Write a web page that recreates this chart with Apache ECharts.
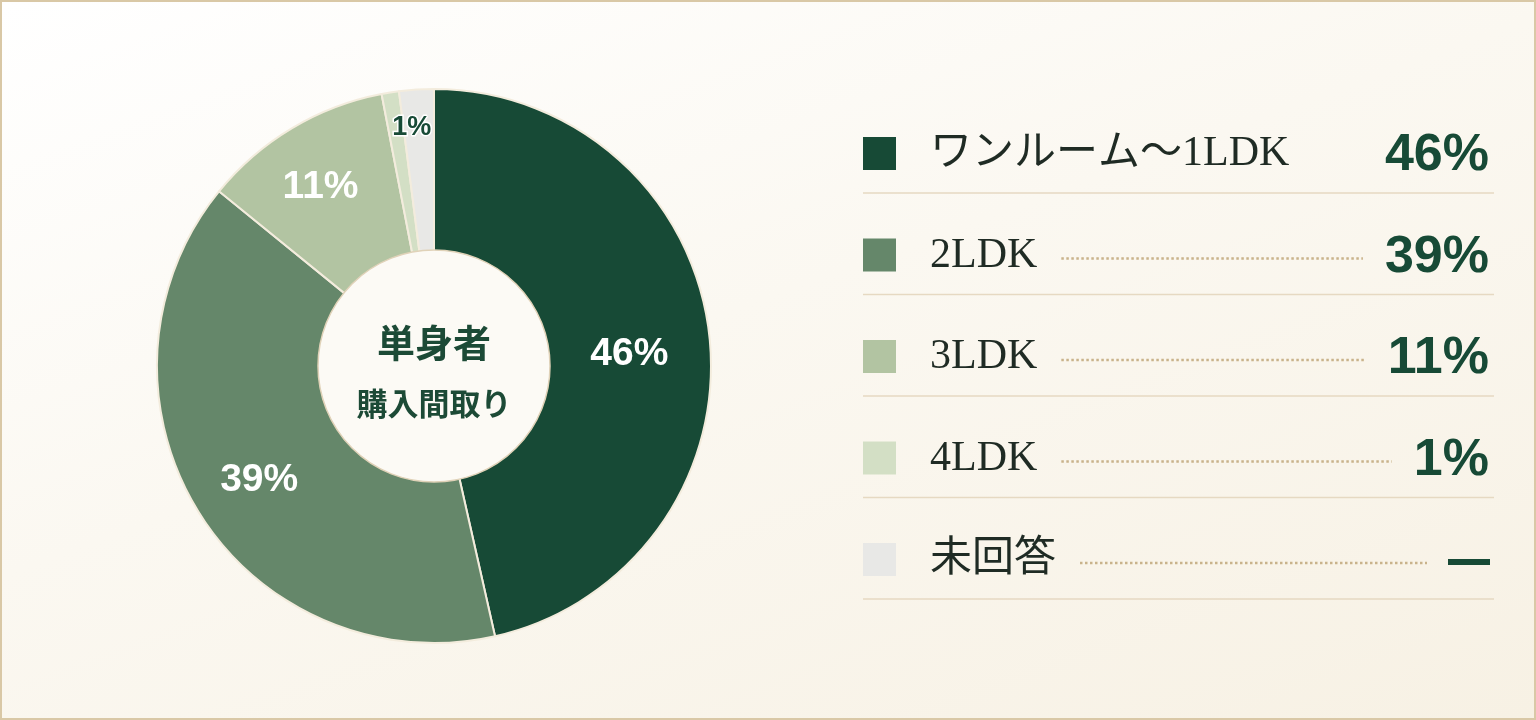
<!DOCTYPE html>
<html lang="ja">
<head>
<meta charset="utf-8">
<title>単身者 購入間取り</title>
<script src="https://cdn.jsdelivr.net/npm/echarts@6.0.0/dist/echarts.min.js"></script>
<style>
html, body {
    margin: 0;
    padding: 0;
    width: 1536px;
    height: 720px;
    overflow: hidden;
}
.frame {
    box-sizing: border-box;
    width: 1536px;
    height: 720px;
    border: 2px solid #d9c8a6;
    background: linear-gradient(160deg, #ffffff 0%, #fbf8f1 45%, #f7f1e4 100%);
}
#chart {
    width: 100%;
    height: 100%;
}
</style>
</head>
<body>
<div class="frame"><div id="chart"></div></div>
<script>
// 間取りの区分と割合
const categories = ['ワンルーム〜1LDK', '2LDK', '3LDK', '4LDK', '未回答'];
const shares = [46, 39, 11, 1, 2];
const valueLabels = ['46%', '39%', '11%', '1%', '—'];
const colors = ['#174a36', '#65876a', '#b2c4a2', '#d3dfc5', '#e8e8e6'];

const CX = 432, CY = 364;
const R_OUT = 277, R_IN = 112;

const SERIF = '"Liberation Serif", "DejaVu Serif", "Noto Sans CJK JP", serif';
const SANS = '"Liberation Sans", Arial, sans-serif';
const CJK = '"Noto Sans CJK JP", sans-serif';
const GREEN = '#174a36';

// 文字幅の計測用
const measureCtx = document.createElement('canvas').getContext('2d');
function textWidth(str, font) {
    measureCtx.font = font;
    return measureCtx.measureText(str).width;
}

function initChart() {
    let chartShell = document.getElementById('chart');
    let myChart = echarts.init(chartShell, null, { renderer: 'canvas' });

    // 右側の凡例（表）
    let rowTop = 152, rowStep = 101.5;
    let legendLeft = 861, legendRight = 1492, valueRight = 1487;
    let textLeft = 928;
    let nameFont = 42, valueFont = 52;
    let graphics = [];

    categories.forEach(function (name, i) {
        let cy = rowTop + i * rowStep;
        graphics.push({
            type: 'rect',
            shape: { x: legendLeft, y: cy - 17, width: 33, height: 33 },
            style: { fill: colors[i] }
        });
        graphics.push({
            type: 'text',
            x: textLeft,
            y: cy,
            style: {
                text: name,
                font: nameFont + 'px ' + SERIF,
                fill: '#1f2b24',
                verticalAlign: 'middle'
            }
        });
        let isDash = valueLabels[i] === '—';
        let vFont = isDash ? 'bold 40px ' + SANS : 'bold ' + valueFont + 'px ' + SANS;
        graphics.push({
            type: 'text',
            x: valueRight,
            y: cy + 2,
            style: {
                text: valueLabels[i],
                font: vFont,
                fill: GREEN,
                align: 'right',
                verticalAlign: 'middle',
                stroke: isDash ? GREEN : null,
                lineWidth: isDash ? 2 : 0
            }
        });
        // 点線のリーダー（名前が長い行は省略）
        let nameEnd = textLeft + textWidth(name, nameFont + 'px ' + SERIF);
        let valStart = valueRight - textWidth(valueLabels[i], vFont);
        let x1 = nameEnd + 24, x2 = valStart - 22;
        if (x2 - x1 > 90) {
            graphics.push({
                type: 'line',
                shape: { x1: x1, y1: cy + 3, x2: x2, y2: cy + 3 },
                style: { stroke: '#c9b38b', lineWidth: 2.5, lineDash: [2.5, 2.5] }
            });
        }
        graphics.push({
            type: 'line',
            shape: { x1: legendLeft, y1: cy + 39, x2: legendRight, y2: cy + 39 },
            style: { stroke: '#e6d9c2', lineWidth: 1.5 }
        });
    });

    // 中央の円とタイトル
    graphics.push({
        type: 'circle',
        z: 10,
        shape: { cx: CX, cy: CY, r: 116 },
        style: { fill: '#fcfaf5', stroke: '#e0d2b8', lineWidth: 1.5 }
    });
    graphics.push({
        type: 'text',
        z: 11,
        x: CX,
        y: CY - 23,
        style: {
            text: '単身者',
            font: 'bold 38px ' + CJK,
            fill: '#1c4a36',
            align: 'center',
            verticalAlign: 'middle'
        }
    });
    graphics.push({
        type: 'text',
        z: 11,
        x: CX,
        y: CY + 37,
        style: {
            text: '購入間取り',
            font: 'bold 31px ' + CJK,
            fill: '#1c4a36',
            align: 'center',
            verticalAlign: 'middle'
        }
    });

    // ラベル位置の微調整
    let labelShift = [
        { dx: -1, dy: 10 },
        { dx: -7, dy: 10 },
        { dx: -12, dy: -9 },
        { dx: 9, dy: -43 },
        {}
    ];

    let option = {
        backgroundColor: 'transparent',
        animation: false,
        graphic: graphics,
        series: [
            {
                type: 'pie',
                center: [CX, CY],
                radius: [R_IN, R_OUT],
                startAngle: 90,
                clockwise: true,
                z: 2,
                itemStyle: {
                    borderColor: '#f3ecdd',
                    borderWidth: 2
                },
                label: {
                    show: true,
                    position: 'inside',
                    formatter: function (p) {
                        return valueLabels[p.dataIndex];
                    },
                    color: '#ffffff',
                    fontFamily: SANS,
                    fontWeight: 'bold',
                    fontSize: 39
                },
                labelLine: { show: false },
                labelLayout: function (params) {
                    return labelShift[params.dataIndex] || {};
                },
                data: categories.map(function (name, i) {
                    let item = {
                        name: name,
                        value: shares[i],
                        itemStyle: { color: colors[i] }
                    };
                    if (i === 3) {
                        item.label = {
                            color: GREEN,
                            fontSize: 27,
                            textBorderColor: '#ffffff',
                            textBorderWidth: 3
                        };
                    }
                    if (i === 4) {
                        item.label = { show: false };
                    }
                    return item;
                })
            }
        ]
    };

    myChart.setOption(option);
    window.addEventListener('resize', function () {
        myChart.resize();
    });
}

initChart();
</script>
</body>
</html>
